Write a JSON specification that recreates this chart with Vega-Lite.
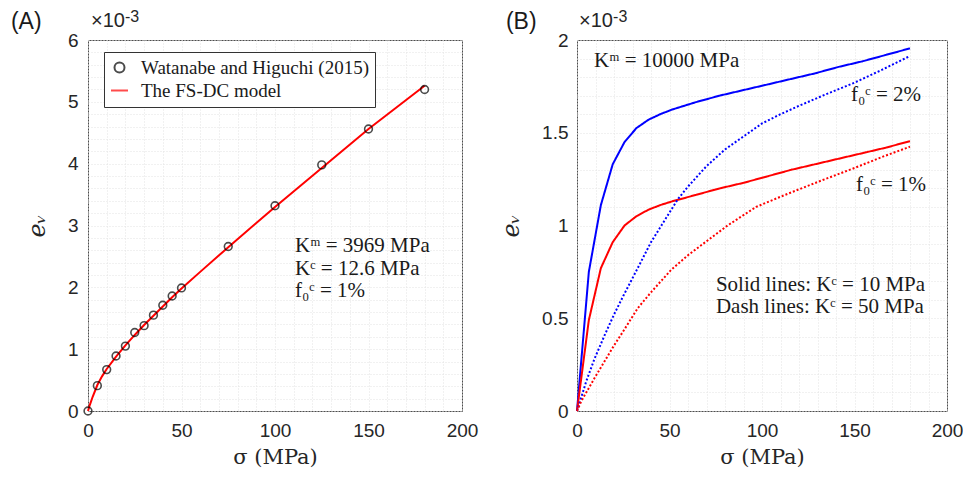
{
  "$schema": "https://vega.github.io/schema/vega-lite/v6.json",
  "background": "white",
  "padding": {"left": 10, "top": 8, "right": 5, "bottom": 5},
  "spacing": 20,
  "resolve": {"scale": {"color": "independent", "shape": "independent", "strokeDash": "independent"}, "legend": {"color": "independent", "shape": "independent"}},
  "config": {
    "view": {"stroke": "#4d4d4d", "strokeWidth": 1},
    "axis": {
      "labelFont": "Liberation Sans", "labelFontSize": 19, "labelColor": "#262626", "labelFlush": false,
      "titleFont": "DejaVu Serif", "titleFontWeight": "normal", "titleColor": "#262626",
      "gridColor": "#d9d9d9", "gridWidth": 1, "domain": false, "ticks": false, "tickColor": "#4d4d4d"
    },
    "text": {"color": "#1a1a1a"}
  },
  "datasets": {
    "obs": [
      {"s": 0, "e": 0}, {"s": 5, "e": 0.41}, {"s": 10, "e": 0.67}, {"s": 15, "e": 0.89},
      {"s": 20, "e": 1.05}, {"s": 25, "e": 1.27}, {"s": 30, "e": 1.38}, {"s": 35, "e": 1.55},
      {"s": 40, "e": 1.71}, {"s": 45, "e": 1.86}, {"s": 50, "e": 1.99}, {"s": 75, "e": 2.66},
      {"s": 100, "e": 3.32}, {"s": 125, "e": 3.98}, {"s": 150, "e": 4.56}, {"s": 180, "e": 5.2}
    ],
    "model": [
      {"s": 0, "e": 0}, {"s": 1, "e": 0.1}, {"s": 2.5, "e": 0.23}, {"s": 5, "e": 0.42},
      {"s": 7.5, "e": 0.56}, {"s": 10, "e": 0.68}, {"s": 15, "e": 0.88}, {"s": 20, "e": 1.06},
      {"s": 25, "e": 1.23}, {"s": 30, "e": 1.39}, {"s": 35, "e": 1.54}, {"s": 40, "e": 1.69},
      {"s": 45, "e": 1.84}, {"s": 50, "e": 1.98}, {"s": 60, "e": 2.25}, {"s": 75, "e": 2.65},
      {"s": 90, "e": 3.04}, {"s": 100, "e": 3.3}, {"s": 125, "e": 3.93}, {"s": 150, "e": 4.56},
      {"s": 180, "e": 5.26}
    ],
    "curves": [
      {"s": 0, "e": 0, "f0": "2%", "Kc": "10"}, {"s": 6.4, "e": 0.75, "f0": "2%", "Kc": "10"},
      {"s": 12.9, "e": 1.11, "f0": "2%", "Kc": "10"}, {"s": 19.3, "e": 1.33, "f0": "2%", "Kc": "10"},
      {"s": 25.7, "e": 1.45, "f0": "2%", "Kc": "10"}, {"s": 32.1, "e": 1.525, "f0": "2%", "Kc": "10"},
      {"s": 38.6, "e": 1.57, "f0": "2%", "Kc": "10"}, {"s": 45, "e": 1.6, "f0": "2%", "Kc": "10"},
      {"s": 51.4, "e": 1.625, "f0": "2%", "Kc": "10"}, {"s": 64.3, "e": 1.665, "f0": "2%", "Kc": "10"},
      {"s": 77.1, "e": 1.7, "f0": "2%", "Kc": "10"}, {"s": 90, "e": 1.73, "f0": "2%", "Kc": "10"},
      {"s": 102.9, "e": 1.76, "f0": "2%", "Kc": "10"}, {"s": 115.7, "e": 1.79, "f0": "2%", "Kc": "10"},
      {"s": 128.6, "e": 1.82, "f0": "2%", "Kc": "10"}, {"s": 141.4, "e": 1.855, "f0": "2%", "Kc": "10"},
      {"s": 154.3, "e": 1.885, "f0": "2%", "Kc": "10"}, {"s": 167.1, "e": 1.92, "f0": "2%", "Kc": "10"},
      {"s": 180, "e": 1.955, "f0": "2%", "Kc": "10"},

      {"s": 0, "e": 0, "f0": "1%", "Kc": "10"}, {"s": 6.4, "e": 0.49, "f0": "1%", "Kc": "10"},
      {"s": 12.9, "e": 0.77, "f0": "1%", "Kc": "10"}, {"s": 19.3, "e": 0.91, "f0": "1%", "Kc": "10"},
      {"s": 25.7, "e": 1.0, "f0": "1%", "Kc": "10"}, {"s": 32.1, "e": 1.05, "f0": "1%", "Kc": "10"},
      {"s": 38.6, "e": 1.085, "f0": "1%", "Kc": "10"}, {"s": 45, "e": 1.11, "f0": "1%", "Kc": "10"},
      {"s": 51.4, "e": 1.13, "f0": "1%", "Kc": "10"}, {"s": 64.3, "e": 1.165, "f0": "1%", "Kc": "10"},
      {"s": 77.1, "e": 1.2, "f0": "1%", "Kc": "10"}, {"s": 90, "e": 1.23, "f0": "1%", "Kc": "10"},
      {"s": 102.9, "e": 1.265, "f0": "1%", "Kc": "10"}, {"s": 115.7, "e": 1.3, "f0": "1%", "Kc": "10"},
      {"s": 128.6, "e": 1.33, "f0": "1%", "Kc": "10"}, {"s": 141.4, "e": 1.36, "f0": "1%", "Kc": "10"},
      {"s": 154.3, "e": 1.39, "f0": "1%", "Kc": "10"}, {"s": 167.1, "e": 1.42, "f0": "1%", "Kc": "10"},
      {"s": 180, "e": 1.455, "f0": "1%", "Kc": "10"},

      {"s": 0, "e": 0, "f0": "2%", "Kc": "50"}, {"s": 2.5, "e": 0.08, "f0": "2%", "Kc": "50"},
      {"s": 5, "e": 0.16, "f0": "2%", "Kc": "50"}, {"s": 9.4, "e": 0.28, "f0": "2%", "Kc": "50"},
      {"s": 15, "e": 0.41, "f0": "2%", "Kc": "50"}, {"s": 20, "e": 0.52, "f0": "2%", "Kc": "50"},
      {"s": 25, "e": 0.62, "f0": "2%", "Kc": "50"}, {"s": 32.8, "e": 0.77, "f0": "2%", "Kc": "50"},
      {"s": 40, "e": 0.91, "f0": "2%", "Kc": "50"}, {"s": 45, "e": 0.99, "f0": "2%", "Kc": "50"},
      {"s": 54.4, "e": 1.14, "f0": "2%", "Kc": "50"}, {"s": 60, "e": 1.21, "f0": "2%", "Kc": "50"},
      {"s": 70, "e": 1.32, "f0": "2%", "Kc": "50"}, {"s": 80, "e": 1.41, "f0": "2%", "Kc": "50"},
      {"s": 90, "e": 1.48, "f0": "2%", "Kc": "50"}, {"s": 100, "e": 1.55, "f0": "2%", "Kc": "50"},
      {"s": 110, "e": 1.6, "f0": "2%", "Kc": "50"}, {"s": 120, "e": 1.645, "f0": "2%", "Kc": "50"},
      {"s": 132.8, "e": 1.7, "f0": "2%", "Kc": "50"}, {"s": 150, "e": 1.77, "f0": "2%", "Kc": "50"},
      {"s": 165, "e": 1.84, "f0": "2%", "Kc": "50"}, {"s": 180, "e": 1.914, "f0": "2%", "Kc": "50"},

      {"s": 0, "e": 0, "f0": "1%", "Kc": "50"}, {"s": 2.2, "e": 0.05, "f0": "1%", "Kc": "50"},
      {"s": 5, "e": 0.1, "f0": "1%", "Kc": "50"}, {"s": 9.4, "e": 0.176, "f0": "1%", "Kc": "50"},
      {"s": 15, "e": 0.27, "f0": "1%", "Kc": "50"}, {"s": 20.2, "e": 0.356, "f0": "1%", "Kc": "50"},
      {"s": 25, "e": 0.43, "f0": "1%", "Kc": "50"}, {"s": 32.8, "e": 0.554, "f0": "1%", "Kc": "50"},
      {"s": 40, "e": 0.64, "f0": "1%", "Kc": "50"}, {"s": 50.8, "e": 0.76, "f0": "1%", "Kc": "50"},
      {"s": 60, "e": 0.84, "f0": "1%", "Kc": "50"}, {"s": 70, "e": 0.915, "f0": "1%", "Kc": "50"},
      {"s": 81.4, "e": 1.0, "f0": "1%", "Kc": "50"}, {"s": 90, "e": 1.056, "f0": "1%", "Kc": "50"},
      {"s": 96.8, "e": 1.1, "f0": "1%", "Kc": "50"}, {"s": 110, "e": 1.155, "f0": "1%", "Kc": "50"},
      {"s": 120, "e": 1.195, "f0": "1%", "Kc": "50"}, {"s": 132.8, "e": 1.245, "f0": "1%", "Kc": "50"},
      {"s": 150, "e": 1.31, "f0": "1%", "Kc": "50"}, {"s": 165, "e": 1.37, "f0": "1%", "Kc": "50"},
      {"s": 180, "e": 1.425, "f0": "1%", "Kc": "50"}
    ]
  },
  "hconcat": [
    {
      "width": 374,
      "height": 371,
      "resolve": {"axis": {"x": "independent", "y": "independent"}},
      "layer": [
        {
          "data": {"name": "model"},
          "mark": {"type": "line", "color": "#ff0000", "strokeWidth": 2},
          "encoding": {
            "x": {"field": "s", "type": "quantitative", "scale": {"domain": [0, 200], "nice": false},
              "axis": {"orient": "bottom", "values": [0,10,20,30,40,50,60,70,80,90,100,110,120,130,140,150,160,170,180,190,200],
                "labels": false, "title": null, "gridColor": "#e3e3e3", "gridDash": [1, 2]}},
            "y": {"field": "e", "type": "quantitative", "scale": {"domain": [0, 6], "nice": false},
              "axis": {"orient": "left", "values": [0,0.2,0.4,0.6,0.8,1,1.2,1.4,1.6,1.8,2,2.2,2.4,2.6,2.8,3,3.2,3.4,3.6,3.8,4,4.2,4.4,4.6,4.8,5,5.2,5.4,5.6,5.8,6],
                "labels": false, "title": null, "gridColor": "#e3e3e3", "gridDash": [1, 2]}}
          }
        },
        {
          "data": {"name": "obs"},
          "transform": [{"calculate": "'Watanabe and Higuchi (2015)'", "as": "series"}],
          "mark": {"type": "point", "filled": false, "strokeWidth": 1.6, "size": 60},
          "encoding": {
            "x": {"field": "s", "type": "quantitative",
              "axis": {"orient": "bottom", "values": [0, 50, 100, 150, 200], "title": "σ (MPa)", "titleFontSize": 21,
                "labelPadding": 10, "titlePadding": 6}},
            "y": {"field": "e", "type": "quantitative",
              "axis": {"orient": "left", "values": [0, 1, 2, 3, 4, 5, 6], "title": "eᵥ", "titleFontSize": 24,
                "titleFontStyle": "italic", "labelPadding": 10, "titlePadding": 18}},
            "color": {"field": "series", "type": "nominal",
              "scale": {"domain": ["Watanabe and Higuchi (2015)", "The FS-DC model"], "range": ["#000000", "#ff0000"]},
              "legend": {"orient": "none", "legendX": 16, "legendY": 12, "title": null,
                "strokeColor": "#333333", "fillColor": "white", "padding": 6,
                "labelFont": "Liberation Serif", "labelFontSize": 19, "labelColor": "#1a1a1a", "labelLimit": 400,
                "symbolStrokeWidth": 2, "rowPadding": 3, "labelOffset": 12}},
            "shape": {"field": "series", "type": "nominal",
              "scale": {"domain": ["Watanabe and Higuchi (2015)", "The FS-DC model"], "range": ["circle", "M-1.7,0H1.7"]}}
          }
        },
        {
          "data": {"values": [
            {"s": 110.7, "e": 2.67, "t": "Kᵐ = 3969 MPa"},
            {"s": 110.7, "e": 2.3, "t": "Kᶜ = 12.6 MPa"},
            {"s": 110.7, "e": 1.94, "t": "f₀ᶜ = 1%"}
          ]},
          "mark": {"type": "text", "align": "left", "baseline": "middle", "font": "Liberation Serif", "fontSize": 21},
          "encoding": {
            "x": {"field": "s", "type": "quantitative", "axis": null},
            "y": {"field": "e", "type": "quantitative", "axis": null},
            "text": {"field": "t"}
          }
        },
        {
          "data": {"values": [{"s": -41.2, "e": 6.29, "t": "(A)"}]},
          "mark": {"type": "text", "align": "left", "baseline": "middle", "font": "Liberation Sans", "fontSize": 23, "clip": false},
          "encoding": {
            "x": {"field": "s", "type": "quantitative", "axis": null},
            "y": {"field": "e", "type": "quantitative", "axis": null},
            "text": {"field": "t"}
          }
        },
        {
          "data": {"values": [{"s": 1.6, "e": 6.31, "t": "×10"}]},
          "mark": {"type": "text", "align": "left", "baseline": "middle", "font": "Liberation Sans", "fontSize": 20, "color": "#262626"},
          "encoding": {
            "x": {"field": "s", "type": "quantitative", "axis": null},
            "y": {"field": "e", "type": "quantitative", "axis": null},
            "text": {"field": "t"}
          }
        },
        {
          "data": {"values": [{"s": 19.8, "e": 6.37, "t": "-3"}]},
          "mark": {"type": "text", "align": "left", "baseline": "middle", "font": "Liberation Sans", "fontSize": 16, "color": "#262626"},
          "encoding": {
            "x": {"field": "s", "type": "quantitative", "axis": null},
            "y": {"field": "e", "type": "quantitative", "axis": null},
            "text": {"field": "t"}
          }
        }
      ]
    },
    {
      "width": 370,
      "height": 371,
      "resolve": {"axis": {"x": "independent", "y": "independent"}},
      "layer": [
        {
          "data": {"name": "curves"},
          "mark": {"type": "line", "strokeWidth": 2},
          "encoding": {
            "x": {"field": "s", "type": "quantitative", "scale": {"domain": [0, 200], "nice": false},
              "axis": {"orient": "bottom", "values": [0,10,20,30,40,50,60,70,80,90,100,110,120,130,140,150,160,170,180,190,200],
                "labels": false, "title": null, "gridColor": "#e3e3e3", "gridDash": [1, 2]}},
            "y": {"field": "e", "type": "quantitative", "scale": {"domain": [0, 2], "nice": false},
              "axis": {"orient": "left", "values": [0,0.1,0.2,0.3,0.4,0.5,0.6,0.7,0.8,0.9,1,1.1,1.2,1.3,1.4,1.5,1.6,1.7,1.8,1.9,2],
                "labels": false, "title": null, "gridColor": "#e3e3e3", "gridDash": [1, 2]}},
            "color": {"field": "f0", "type": "nominal", "scale": {"domain": ["2%", "1%"], "range": ["#0000ff", "#ff0000"]}, "legend": null},
            "strokeDash": {"field": "Kc", "type": "nominal", "scale": {"domain": ["10", "50"], "range": [[1, 0], [2, 2]]}, "legend": null},
            "detail": {"field": "Kc", "type": "nominal"}
          }
        },
        {
          "data": {"values": [
            {"s": 9.2, "e": 1.888, "t": "Kᵐ = 10000 MPa"},
            {"s": 148.1, "e": 1.703, "t": "f₀ᶜ = 2%"},
            {"s": 150.8, "e": 1.218, "t": "f₀ᶜ = 1%"},
            {"s": 75.1, "e": 0.679, "t": "Solid lines: Kᶜ = 10 MPa"},
            {"s": 75.1, "e": 0.559, "t": "Dash lines: Kᶜ = 50 MPa"}
          ]},
          "mark": {"type": "text", "align": "left", "baseline": "middle", "font": "Liberation Serif", "fontSize": 21},
          "encoding": {
            "x": {"field": "s", "type": "quantitative",
              "axis": {"orient": "bottom", "values": [0, 50, 100, 150, 200], "title": "σ (MPa)", "titleFontSize": 21,
                "labelPadding": 10, "titlePadding": 6}},
            "y": {"field": "e", "type": "quantitative",
              "axis": {"orient": "left", "values": [0, 0.5, 1, 1.5, 2], "format": "~g", "title": "eᵥ", "titleFontSize": 24,
                "titleFontStyle": "italic", "labelPadding": 9, "titlePadding": 18}},
            "text": {"field": "t"}
          }
        },
        {
          "data": {"values": [{"s": -38.4, "e": 2.097, "t": "(B)"}]},
          "mark": {"type": "text", "align": "left", "baseline": "middle", "font": "Liberation Sans", "fontSize": 23, "clip": false},
          "encoding": {
            "x": {"field": "s", "type": "quantitative", "axis": null},
            "y": {"field": "e", "type": "quantitative", "axis": null},
            "text": {"field": "t"}
          }
        },
        {
          "data": {"values": [{"s": 1.1, "e": 2.102, "t": "×10"}]},
          "mark": {"type": "text", "align": "left", "baseline": "middle", "font": "Liberation Sans", "fontSize": 20, "color": "#262626"},
          "encoding": {
            "x": {"field": "s", "type": "quantitative", "axis": null},
            "y": {"field": "e", "type": "quantitative", "axis": null},
            "text": {"field": "t"}
          }
        },
        {
          "data": {"values": [{"s": 19.5, "e": 2.124, "t": "-3"}]},
          "mark": {"type": "text", "align": "left", "baseline": "middle", "font": "Liberation Sans", "fontSize": 16, "color": "#262626"},
          "encoding": {
            "x": {"field": "s", "type": "quantitative", "axis": null},
            "y": {"field": "e", "type": "quantitative", "axis": null},
            "text": {"field": "t"}
          }
        }
      ]
    }
  ]
}
